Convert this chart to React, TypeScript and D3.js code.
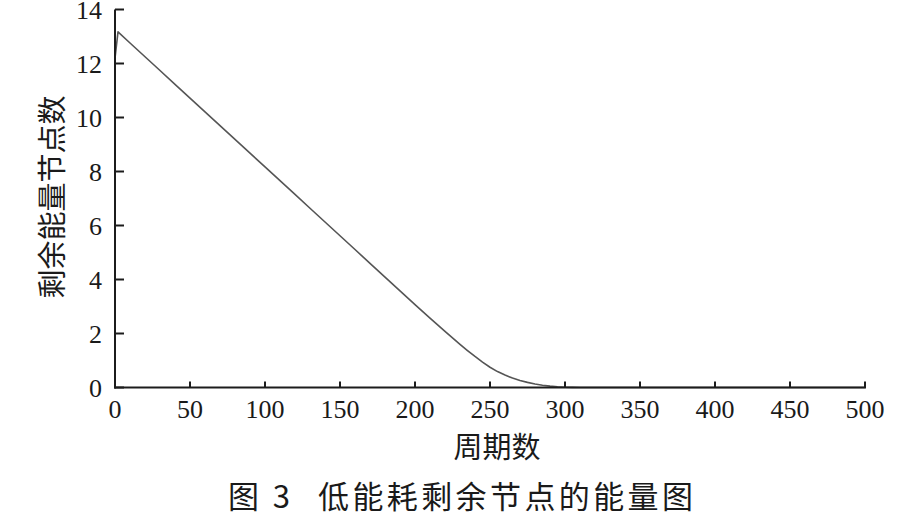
import React from "react";
import * as d3 from "d3";

const cycles = [0, 2, 10, 20, 30, 40, 50, 60, 70, 80, 90, 100, 110, 120, 130, 140, 150, 160, 170, 180, 190, 200, 210, 220, 230, 235, 240, 245, 250, 255, 260, 265, 270, 275, 280, 285, 290, 295, 300, 305, 310, 350, 400, 450, 500];
const remaining = [12.2, 13.17, 12.76, 12.25, 11.74, 11.23, 10.72, 10.21, 9.7, 9.19, 8.68, 8.17, 7.66, 7.15, 6.64, 6.13, 5.62, 5.11, 4.6, 4.09, 3.58, 3.07, 2.57, 2.08, 1.6, 1.37, 1.15, 0.94, 0.75, 0.59, 0.46, 0.35, 0.26, 0.19, 0.13, 0.085, 0.05, 0.025, 0.01, 0.003, 0, 0, 0, 0, 0];
const xTicks = [0, 50, 100, 150, 200, 250, 300, 350, 400, 450, 500];
const yTicks = [0, 2, 4, 6, 8, 10, 12, 14];
const xTitle = "周期数";
const yTitle = "剩余能量节点数";
const captionNum = "图 3";
const captionText = "低能耗剩余节点的能量图";

export default function App() {
  const W = 924, H = 529;
  const x = d3.scaleLinear().domain([0, 500]).range([115, 865]);
  const y = d3.scaleLinear().domain([0, 14]).range([387.5, 9.5]);
  const pts: [number, number][] = cycles.map((c, i) => [c, remaining[i]]);
  const line = d3.line<[number, number]>().x(d => x(d[0])).y(d => y(d[1])).curve(d3.curveLinear);
  const serif = "'Liberation Serif', 'Times New Roman', serif";
  const cjk = "'Noto Sans CJK SC', sans-serif";
  const axisColor = "#1c1c1c";
  return (
    <svg width={W} height={H} style={{ position: "absolute", left: 0, top: 0, background: "#fff" }}>
      <rect x={0} y={0} width={W} height={H} fill="#fff" />
      <path d={line(pts) || ""} fill="none" stroke="#555" strokeWidth={1.6} strokeLinejoin="round" />
      <line x1={x(0)} x2={x(0)} y1={y(14)} y2={y(0) + 1} stroke={axisColor} strokeWidth={2} />
      <line x1={x(0) - 1} x2={x(500) + 1} y1={y(0)} y2={y(0)} stroke={axisColor} strokeWidth={2} />
      {yTicks.map(t => (
        <g key={"y" + t}>
          <line x1={x(0)} x2={x(0) + 9} y1={y(t)} y2={y(t)} stroke={axisColor} strokeWidth={2} />
          <text x={102} y={y(t) + 9} textAnchor="end" fontFamily={serif} fontSize={26} fill="#1a1a1a">{t}</text>
        </g>
      ))}
      {xTicks.map(t => (
        <g key={"x" + t}>
          <line x1={x(t)} x2={x(t)} y1={y(0)} y2={y(0) - 6} stroke={axisColor} strokeWidth={2} />
          <text x={x(t)} y={418} textAnchor="middle" fontFamily={serif} fontSize={26} fill="#1a1a1a">{t}</text>
        </g>
      ))}
      <text x={497} y={458} textAnchor="middle" fontFamily={cjk} fontSize={29} fill="#1a1a1a">{xTitle}</text>
      <text transform={`translate(63,${197}) rotate(-90)`} textAnchor="middle" fontFamily={cjk} fontSize={29} fill="#1a1a1a">{yTitle}</text>
      <text x={228} y={508} fontFamily={cjk} fontSize={31} fill="#1a1a1a" textLength={62} lengthAdjust="spacing">{captionNum}</text>
      <text x={318} y={508} fontFamily={cjk} fontSize={31} fill="#1a1a1a" textLength={375} lengthAdjust="spacing">{captionText}</text>
    </svg>
  );
}
